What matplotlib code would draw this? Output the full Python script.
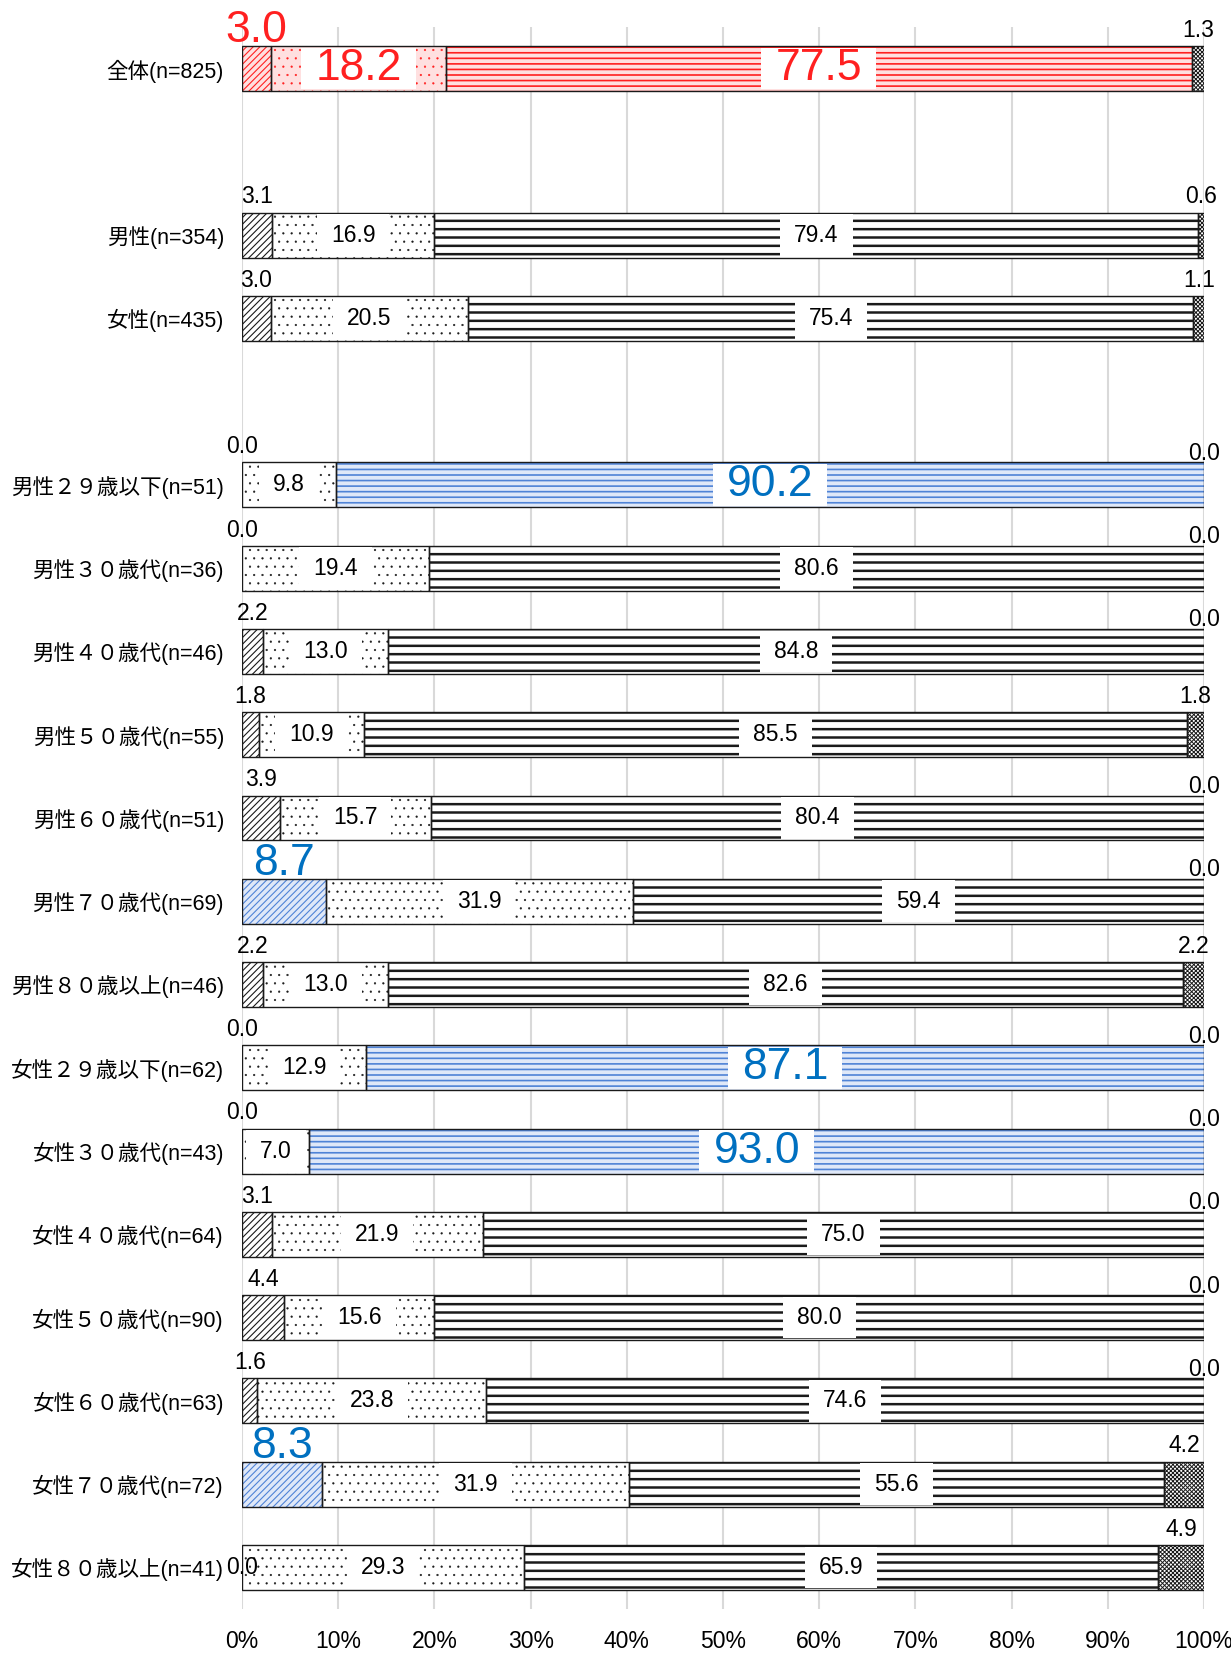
import numpy as np
import matplotlib as mpl
mpl.use('Agg')
import matplotlib.pyplot as plt
from matplotlib import font_manager
from matplotlib.patches import Rectangle

installed = {f.name for f in font_manager.fontManager.ttflist}
latin = 'Liberation Sans Narrow' if 'Liberation Sans Narrow' in installed else 'Liberation Sans'
plt.rcParams['font.family'] = [latin, 'Noto Sans CJK JP', 'DejaVu Sans']

# data (percent)
rows = ['全体(n=825)',
        '男性(n=354)', '女性(n=435)',
        '男性２９歳以下(n=51)', '男性３０歳代(n=36)', '男性４０歳代(n=46)', '男性５０歳代(n=55)',
        '男性６０歳代(n=51)', '男性７０歳代(n=69)', '男性８０歳以上(n=46)',
        '女性２９歳以下(n=62)', '女性３０歳代(n=43)', '女性４０歳代(n=64)', '女性５０歳代(n=90)',
        '女性６０歳代(n=63)', '女性７０歳代(n=72)', '女性８０歳以上(n=41)']
groups = [1, 2, 14]
seg1 = [3.0, 3.1, 3.0, 0.0, 0.0, 2.2, 1.8, 3.9, 8.7, 2.2, 0.0, 0.0, 3.1, 4.4, 1.6, 8.3, 0.0]
seg2 = [18.2, 16.9, 20.5, 9.8, 19.4, 13.0, 10.9, 15.7, 31.9, 13.0, 12.9, 7.0, 21.9, 15.6, 23.8, 31.9, 29.3]
seg3 = [77.5, 79.4, 75.4, 90.2, 80.6, 84.8, 85.5, 80.4, 59.4, 82.6, 87.1, 93.0, 75.0, 80.0, 74.6, 55.6, 65.9]
seg4 = [1.3, 0.6, 1.1, 0.0, 0.0, 0.0, 1.8, 0.0, 0.0, 2.2, 0.0, 0.0, 0.0, 0.0, 0.0, 4.2, 4.9]
segs = [seg1, seg2, seg3, seg4]

# highlighted cells: (row, segment)
red_cells = [(0, 0), (0, 1), (0, 2)]
blue_cells = [(3, 2), (8, 0), (10, 2), (11, 2), (15, 0)]

hatches = ['/////', '..', '--', 'xxxxxxxx']
hatch_lw = [0.8, 0.35, 1.8, 0.7]
RED, RED_BG = '#ff2020', '#ffe0e0'
BLUE_TXT, BLUE, BLUE_BG = '#0070c0', '#4f83d6', '#dfe8f8'
DARK = '#1a1a1a'

# y slots with a blank slot between groups
ypos = []
k = 0
for g in groups:
    ypos += list(range(k, k + g))
    k += g + 1
ypos = np.array(ypos)

fig = plt.figure(figsize=(12.31, 16.53), dpi=100)
ax = fig.add_axes([0.1966, 0.0266, 0.7815, 0.9571])
ax.set_xlim(0, 100)
ax.set_ylim(ypos[-1] + 0.5, -0.5)
h = 0.54
renderer = fig.canvas.get_renderer()
ax_w_px = ax.get_window_extent(renderer).width


def boxed_label(x, y, s, fs, color):
    t = ax.text(x, y, s, ha='center', va='center', fontsize=fs, color=color, zorder=6)
    w = t.get_window_extent(renderer).width + 28
    wd = w / ax_w_px * 100
    ax.add_patch(Rectangle((x - wd / 2, y - 0.25), wd, 0.5, facecolor='white',
                           edgecolor='none', zorder=5))


for i, y in enumerate(ypos):
    left = 0.0
    for j, vals in enumerate(segs):
        v = vals[i]
        if (i, j) in red_cells:
            hc, fc = RED, RED_BG
        elif (i, j) in blue_cells:
            hc, fc = BLUE, BLUE_BG
        else:
            hc, fc = DARK, 'white'
        if v > 0:
            coloured_lines = hc != DARK and j == 2
            lw = 1.2 if coloured_lines else hatch_lw[j]
            hatch = '---' if coloured_lines else hatches[j]
            with plt.rc_context({'hatch.linewidth': lw}):
                ax.barh(y, v, left=left, height=h, color=fc, edgecolor=hc,
                        hatch=hatch, linewidth=0, zorder=2)
            ax.barh(y, v, left=left, height=h, fill=False, edgecolor=DARK,
                    linewidth=1.0, zorder=3)
        big = (i, j) in red_cells or (i, j) in blue_cells
        tc = RED if (i, j) in red_cells else (BLUE_TXT if big else 'black')
        fs = 32 if big else 16.5
        xc = left + v / 2
        if j in (1, 2):
            boxed_label(xc, y, f'{v:.1f}', fs, tc)
        elif j == 0 and i == len(rows) - 1:
            ax.text(xc, y, f'{v:.1f}', ha='center', va='center', fontsize=fs, color=tc, zorder=6)
        else:
            if big:
                off = -0.06
            elif j == 3 and v == 0:
                off = -0.03
            else:
                off = 0.05
            ax.text(xc, y - h / 2 - off, f'{v:.1f}', ha='center', va='bottom',
                    fontsize=fs, color=tc, zorder=6)
        left += v

ax.set_xticks(np.arange(0, 101, 10))
ax.set_xticklabels([f'{t}%' for t in range(0, 101, 10)], fontsize=16.5)
ax.set_yticks(ypos)
ax.set_yticklabels(rows, fontsize=15.5)
ax.tick_params(axis='both', length=0)
ax.tick_params(axis='x', pad=15)
ax.tick_params(axis='y', pad=13)
ax.grid(axis='x', color='#d9d9d9', linewidth=1.5, zorder=0)
ax.set_axisbelow(True)
for s in ax.spines.values():
    s.set_visible(False)

fig.savefig('out.png', dpi=100)
